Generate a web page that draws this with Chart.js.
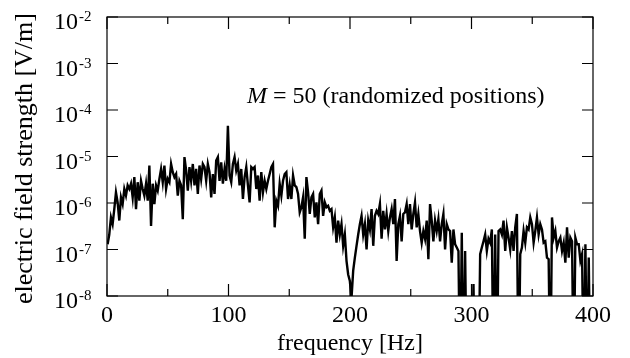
<!DOCTYPE html>
<html>
<head>
<meta charset="utf-8">
<script src="https://cdn.jsdelivr.net/npm/chart.js@4.4.1/dist/chart.umd.min.js"></script>
<style>
  html, body { margin: 0; padding: 0; background: #fff; }
</style>
</head>
<body>
<canvas id="fieldChart" width="630" height="358"></canvas>
<script>
// Spectrum, split into frequency bands [V/m]
const band0to66 = [
  1.3e-7, 2.1e-7, 4.9e-7, 3.5e-7, 7.4e-7, 1.7e-6, 1.03e-6, 4.2e-7, 1.32e-6, 9.5e-7,
  2.0e-6, 1.44e-6, 2.4e-6, 2.0e-6, 2.6e-6, 1.32e-6, 3.6e-6, 7.4e-7, 2.8e-6, 1.12e-6,
  3.0e-6, 2.0e-6, 1.44e-6, 2.6e-6, 1.12e-6, 6.4e-6, 3.2e-7, 2.6e-6, 9.5e-7, 2.4e-6,
  1.85e-6, 3.3e-6, 5.4e-6, 2.8e-6, 6.4e-6, 2.0e-6, 3.3e-6, 2.8e-6, 6.9e-6, 4.6e-6,
  3.6e-6, 4.2e-6, 1.44e-6, 3.0e-6, 2.4e-6, 4.5e-7, 9.7e-6, 5.0e-6
];
const band67to133 = [
  1.85e-6, 5.9e-6, 3.0e-6, 6.9e-6, 2.4e-6, 5.4e-6, 1.56e-6, 6.4e-6, 3.3e-6, 6.9e-6,
  5.9e-6, 3.0e-6, 6.9e-6, 4.6e-6, 1.32e-6, 4.2e-6, 1.56e-6, 8.2e-6, 9.7e-6, 3.0e-6,
  7.5e-6, 2.6e-6, 5.4e-6, 3.0e-6, 4.6e-5, 3.9e-6, 2.8e-6, 6.9e-6, 9.7e-6, 5.0e-6,
  6.9e-6, 2.4e-6, 5.4e-6, 1.22e-6, 3.6e-6, 5.9e-6, 2.4e-6, 1.03e-6, 5.9e-6, 5.4e-6,
  5.9e-6, 2.0e-6, 3.9e-6, 1.12e-6, 4.6e-6, 1.7e-6, 3.0e-6, 2.0e-6, 3.0e-6
];
const band134to199 = [
  4.2e-6, 5.9e-6, 6.9e-6, 3.0e-7, 1.12e-6, 8.7e-7, 2.6e-6, 1.44e-6, 3.0e-6, 4.2e-6,
  4.6e-6, 1.22e-6, 2.4e-6, 1.22e-6, 3.9e-6, 2.4e-6, 2.2e-6, 1.56e-6, 6.3e-7, 8.1e-7,
  1.32e-6, 1.7e-7, 3.6e-6, 1.7e-6, 5.8e-7, 1.32e-6, 1.56e-6, 4.9e-7, 1.03e-6, 3.5e-7,
  1.56e-6, 1.85e-6, 5.3e-7, 1.03e-6, 8.1e-7, 8.7e-7, 6.8e-7, 7.4e-7, 3.0e-7, 4.9e-7,
  1.4e-7, 4.2e-7, 2.1e-7, 3.5e-7, 1.2e-7, 2.1e-7, 5.7e-8, 2.9e-8
];
const band200to265 = [
  2.1e-8, 9e-9, 3.5e-8, 6.7e-8, 1.2e-7, 2.1e-7, 3.5e-7, 5.3e-7, 2.1e-7, 3.5e-7,
  1.0e-7, 4.2e-7, 2.7e-7, 7.4e-7, 1.2e-7, 5.3e-7, 6.8e-7, 5.8e-7, 9.5e-7, 1.7e-7,
  6.8e-7, 2.7e-7, 5.8e-7, 2.5e-7, 4.9e-7, 7.4e-7, 3.5e-7, 1.22e-6, 5.7e-8, 3.5e-7,
  5.3e-7, 1.5e-7, 5.8e-7, 6.3e-7, 9.5e-7, 3.5e-7, 9.5e-7, 2.7e-7, 5.8e-7, 1.03e-6,
  3.0e-7, 5.8e-7, 2.5e-7, 1.4e-7, 2.5e-7, 1.7e-7, 4.2e-7, 6.2e-8
];
const band266to331 = [
  9.5e-7, 4.2e-7, 1.5e-7, 4.2e-7, 2.5e-7, 4.5e-7, 1.5e-7, 3.5e-7, 5.8e-7, 1.0e-7,
  3.5e-7, 2.7e-7, 2.5e-7, 5.2e-8, 2.7e-7, 1.3e-7, 1.1e-7, 9.3e-8, 1e-10, 2.3e-7,
  1e-10, 9.3e-8, 1e-10, 1e-10, 1e-10, 1e-10, 1.8e-8, 1e-10, 1e-10, 1e-10,
  7.9e-8, 1.1e-7, 1.5e-7, 2.1e-7, 9.3e-8, 1.7e-7, 1.4e-7, 2.7e-7, 1e-10, 2.1e-7,
  1e-10, 2.5e-7, 2.7e-7, 2.1e-7, 4.2e-7, 9.3e-8, 3.0e-7, 1.8e-7
];
const band332to400 = [
  1.0e-7, 2.5e-7, 9.3e-8, 3.0e-7, 5.8e-7, 1e-10, 7.9e-8, 1.1e-7, 2.5e-7, 1.4e-7,
  3.0e-7, 2.7e-7, 4.9e-7, 3.5e-7, 1.4e-7, 2.5e-7, 4.9e-7, 2.1e-7, 3.5e-7, 2.7e-7,
  1.4e-7, 1.5e-7, 6.7e-8, 6.2e-8, 1e-10, 4.9e-7, 1.8e-7, 2.5e-7, 1.1e-7, 1.5e-7,
  1.8e-7, 9.3e-8, 1.4e-7, 5.2e-8, 3.0e-7, 6.7e-8, 1.8e-7, 1.5e-7, 1e-10, 1.8e-7,
  1.3e-7, 1.3e-7, 5.7e-8, 7.9e-8, 1e-10, 1.3e-7, 1e-10, 6.7e-8, 1e-10, 1e-10
];

// frequency grid [Hz]
const freqStart = 0.5;
const freqStep = 1.375;

// axes
const xMajorTicks = [0, 100, 200, 300, 400];
const xMinorTicks = [50, 150, 250, 350];
const yTicks = [1e-8, 1e-7, 1e-6, 1e-5, 1e-4, 1e-3, 1e-2];
const yTickExponents = ['-8', '-7', '-6', '-5', '-4', '-3', '-2'];

const xTitle = 'frequency [Hz]';
const yTitle = 'electric field strength [V/m]';
const noteSymbol = 'M';
const noteText = ' = 50 (randomized positions)';

const fieldStrength = [].concat(band0to66, band67to133, band134to199,
  band200to265, band266to331, band332to400);
const points = fieldStrength.map((v, i) => ({ x: freqStart + i * freqStep, y: v }));

const serif = '"Liberation Serif", "DejaVu Serif", serif';

// frame, inward ticks, labels drawn gnuplot-style
const gnuplotFrame = {
  id: 'gnuplotFrame',
  afterDatasetsDraw(chart) {
    const { ctx, chartArea: a, scales } = chart;
    const x = scales.x, y = scales.y;
    ctx.save();
    ctx.strokeStyle = '#000';
    ctx.lineWidth = 1.2;
    ctx.strokeRect(a.left, a.top, a.right - a.left, a.bottom - a.top);

    ctx.beginPath();
    xMajorTicks.forEach(t => {
      const px = x.getPixelForValue(t);
      ctx.moveTo(px, a.bottom); ctx.lineTo(px, a.bottom - 12);
      ctx.moveTo(px, a.top); ctx.lineTo(px, a.top + 12);
    });
    xMinorTicks.forEach(t => {
      const px = x.getPixelForValue(t);
      ctx.moveTo(px, a.bottom); ctx.lineTo(px, a.bottom - 7);
      ctx.moveTo(px, a.top); ctx.lineTo(px, a.top + 7);
    });
    yTicks.forEach(t => {
      const py = y.getPixelForValue(t);
      ctx.moveTo(a.left, py); ctx.lineTo(a.left + 11, py);
      ctx.moveTo(a.right, py); ctx.lineTo(a.right - 11, py);
    });
    ctx.stroke();

    ctx.fillStyle = '#000';
    // x tick labels
    ctx.font = '24px ' + serif;
    ctx.textAlign = 'center';
    ctx.textBaseline = 'alphabetic';
    xMajorTicks.forEach(t => {
      ctx.fillText(String(t), x.getPixelForValue(t), a.bottom + 26);
    });

    // y tick labels 10^n
    yTicks.forEach((t, i) => {
      const py = y.getPixelForValue(t);
      ctx.font = '24px ' + serif;
      ctx.textAlign = 'right';
      ctx.fillText('10', 78, py + 12);
      ctx.font = '15px ' + serif;
      ctx.textAlign = 'left';
      ctx.fillText(yTickExponents[i], 79, py + 4);
    });

    // axis titles
    ctx.font = '24px ' + serif;
    ctx.textAlign = 'center';
    ctx.fillText(xTitle, (a.left + a.right) / 2, 350);
    ctx.save();
    ctx.font = '26px ' + serif;
    ctx.translate(32, (a.top + a.bottom) / 2 + 2);
    ctx.rotate(-Math.PI / 2);
    ctx.fillText(yTitle, 0, 0);
    ctx.restore();

    // annotation
    ctx.textAlign = 'left';
    ctx.font = 'italic 24px ' + serif;
    const nx = 247, ny = 103;
    ctx.fillText(noteSymbol, nx, ny);
    const w = ctx.measureText(noteSymbol).width;
    ctx.font = '24px ' + serif;
    ctx.fillText(noteText, nx + w, ny);
    ctx.restore();
  }
};

new Chart(document.getElementById('fieldChart'), {
  type: 'line',
  data: {
    datasets: [{
      data: points,
      borderColor: '#000',
      borderWidth: 2.4,
      pointRadius: 0,
      tension: 0,
      fill: false
    }]
  },
  options: {
    responsive: false,
    animation: false,
    devicePixelRatio: 1,
    layout: { padding: { left: 107, right: 37, top: 17, bottom: 62 } },
    plugins: { legend: { display: false }, tooltip: { enabled: false } },
    scales: {
      x: { type: 'linear', min: 0, max: 400, display: false },
      y: { type: 'logarithmic', min: 1e-8, max: 1e-2, display: false }
    }
  },
  plugins: [gnuplotFrame]
});
</script>
</body>
</html>
